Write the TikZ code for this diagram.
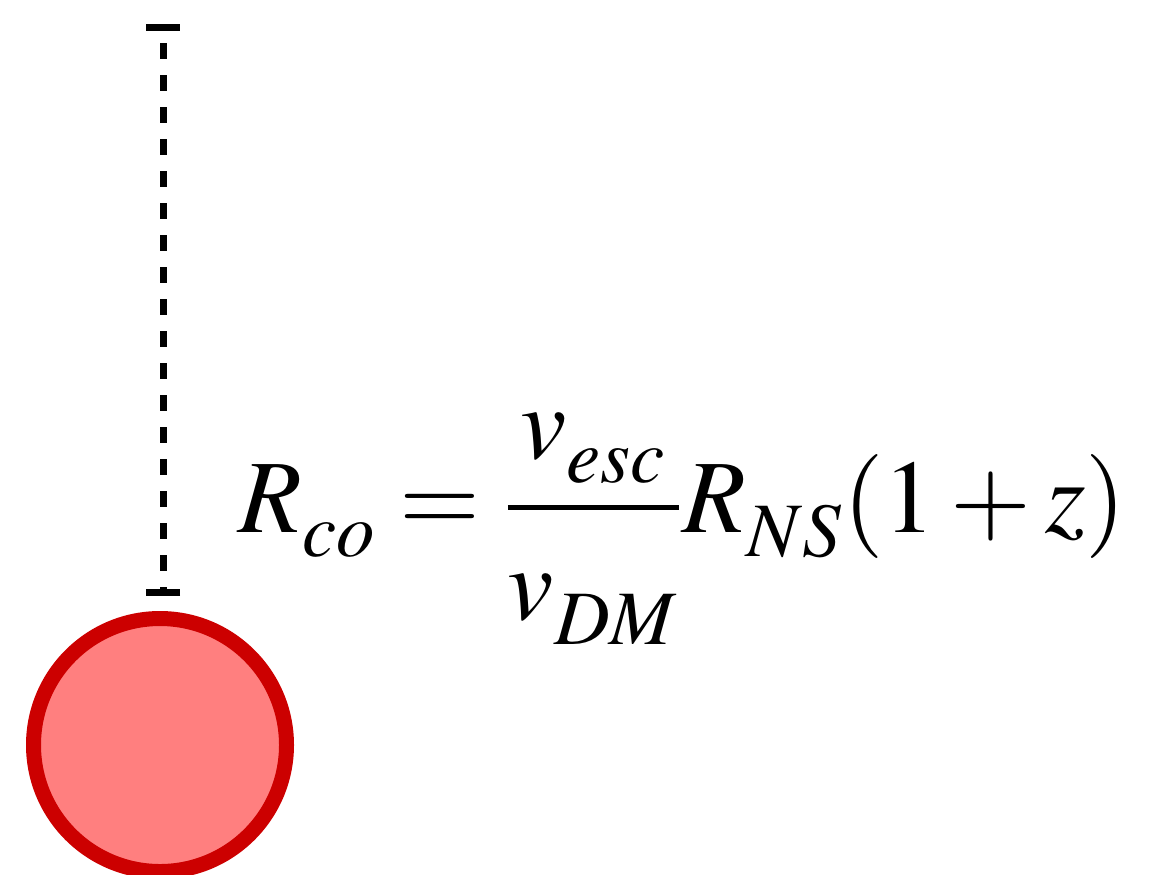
\documentclass[tikz,border=0pt]{standalone}
\definecolor{starred}{RGB}{204,0,0}
\definecolor{starfill}{RGB}{255,127,127}
\usepackage{amsmath}
\usepackage{mathptmx}
\usepackage{tikz}
\usetikzlibrary{arrows.meta, positioning}

\begin{document}
\begin{tikzpicture}
        \useasboundingbox (0,0) rectangle (11.53,8.74);
        \node[circle, draw=starred, fill=starfill, line width=0.15cm,
              minimum size=2.53cm, inner sep=0pt] (star) at (1.60,1.29) {};
        \coordinate (rtop) at (1.63,8.495);
        \draw[line width=0.07cm, {Bar[width=0.34cm]}-{Bar[width=0.34cm]},
              dash pattern=on 0.16cm off 0.16cm, dash phase=0.185cm]
          (rtop) -- ([xshift=0.03cm, yshift=0.15cm]star.north);
        % wider fraction and lower subscripts, as in the original
        \node[anchor=base west, inner sep=0pt, font=\fontsize{29.6}{36}\selectfont] (eqn)
          at (2.38,3.42) {$\fontdimen16\textfont2=7pt \fontdimen8\textfont2=21pt
            \fontdimen11\textfont2=25pt \fontdimen22\textfont2=7pt
            \fontdimen8\textfont3=1.6pt
            \displaystyle R_{co} = \frac{v_{esc}}{v_{DM}}R_{NS}(1+z)$};
      \end{tikzpicture}
\end{document}
